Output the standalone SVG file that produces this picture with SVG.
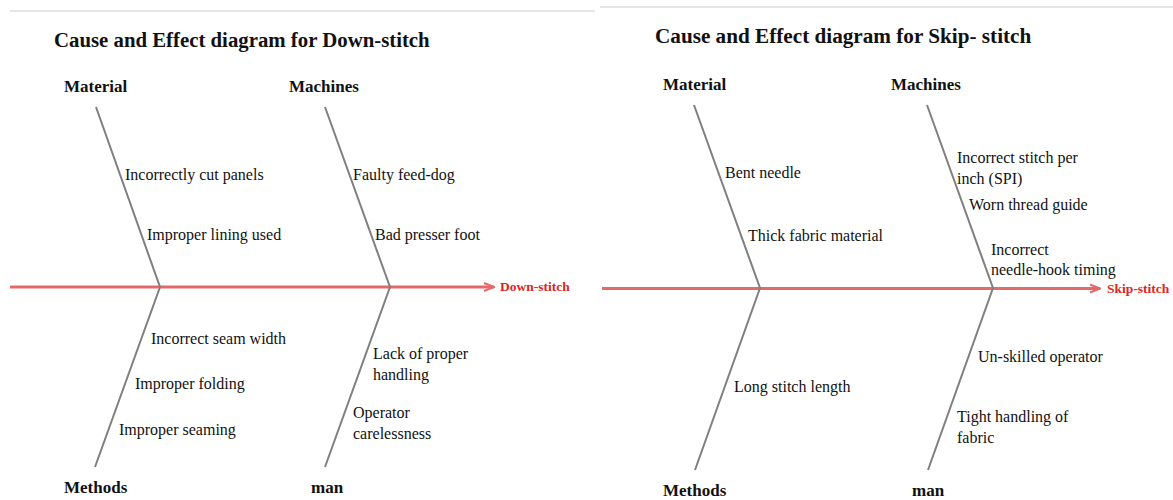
<svg xmlns="http://www.w3.org/2000/svg" width="1173" height="500" viewBox="0 0 1173 500">
  <defs>
    <style>
      text { font-family: 'Liberation Serif', 'Times New Roman', Times, serif; fill: #111; }
      .title { font-weight: bold; font-size: 20.8px; }
      .title-r { font-size: 21.2px; }
      .cat { font-weight: bold; font-size: 17px; }
      .cause { font-size: 16px; }
      .effect { font-weight: bold; font-size: 13.5px; fill: #e02424; }
      .bone { stroke: #7f7f7f; stroke-width: 2; fill: none; }
      .spine { stroke: #e46a6a; stroke-width: 3; fill: none; }
      .rule { stroke: #dcdcdc; stroke-width: 1.5; }
    </style>
    <!-- open chevron head for the effect spine -->
    <marker id="head" viewBox="0 0 12 10" refX="11" refY="5" markerWidth="12" markerHeight="10" markerUnits="userSpaceOnUse" orient="auto">
      <path d="M1,1 L11,5 L1,9" fill="none" stroke="#e46a6a" stroke-width="2"/>
    </marker>
  </defs>
  <rect width="1173" height="500" fill="#ffffff"/>

  <!-- panel separators -->
  <line class="rule" x1="10" y1="11" x2="595" y2="11"/>
  <line class="rule" x1="600" y1="7" x2="1173" y2="7"/>

  <!-- ===== Down-stitch fishbone ===== -->
  <g id="down-title"><text class="title" x="54" y="47">Cause and Effect diagram for Down-stitch</text></g>

  <g id="down-connectors">
    <line class="spine" x1="10" y1="287" x2="494" y2="287" marker-end="url(#head)"/>
    <polyline class="bone" points="96,107 160,287 95,467"/>
    <polyline class="bone" points="325,107 390,287 325,467"/>
  </g>

  <g id="down-effect"><text class="effect" x="500" y="291">Down-stitch</text></g>

  <g id="down-material">
    <text class="cat" x="64" y="92">Material</text>
    <text class="cause" x="125" y="180">Incorrectly cut panels</text>
    <text class="cause" x="147" y="240">Improper lining used</text>
  </g>
  <g id="down-machines">
    <text class="cat" x="289" y="92">Machines</text>
    <text class="cause" x="353" y="180">Faulty feed-dog</text>
    <text class="cause" x="375" y="240">Bad presser foot</text>
  </g>
  <g id="down-methods">
    <text class="cat" x="64" y="493">Methods</text>
    <text class="cause" x="151" y="344">Incorrect seam width</text>
    <text class="cause" x="135" y="389">Improper folding</text>
    <text class="cause" x="119" y="435">Improper seaming</text>
  </g>
  <g id="down-man">
    <text class="cat" x="311" y="493">man</text>
    <text class="cause" x="373" y="359">Lack of proper</text>
    <text class="cause" x="373" y="380">handling</text>
    <text class="cause" x="353" y="418">Operator</text>
    <text class="cause" x="353" y="439">carelessness</text>
  </g>

  <!-- ===== Skip-stitch fishbone ===== -->
  <g id="skip-title"><text class="title title-r" x="655" y="43">Cause and Effect diagram for Skip- stitch</text></g>

  <g id="skip-connectors">
    <line class="spine" x1="602" y1="288.5" x2="1100" y2="288.5" marker-end="url(#head)"/>
    <polyline class="bone" points="694,105 760,288 695,470"/>
    <polyline class="bone" points="927,105 993,288 928,470"/>
  </g>

  <g id="skip-effect"><text class="effect" x="1107" y="293">Skip-stitch</text></g>

  <g id="skip-material">
    <text class="cat" x="663" y="90">Material</text>
    <text class="cause" x="725" y="178">Bent needle</text>
    <text class="cause" x="748" y="241">Thick fabric material</text>
  </g>
  <g id="skip-machines">
    <text class="cat" x="891" y="90">Machines</text>
    <text class="cause" x="957" y="163">Incorrect stitch per</text>
    <text class="cause" x="957" y="184">inch (SPI)</text>
    <text class="cause" x="969" y="210">Worn thread guide</text>
    <text class="cause" x="991" y="255">Incorrect</text>
    <text class="cause" x="991" y="275">needle-hook timing</text>
  </g>
  <g id="skip-methods">
    <text class="cat" x="663" y="496">Methods</text>
    <text class="cause" x="734" y="392">Long stitch length</text>
  </g>
  <g id="skip-man">
    <text class="cat" x="912" y="496">man</text>
    <text class="cause" x="978" y="362">Un-skilled operator</text>
    <text class="cause" x="957" y="422">Tight handling of</text>
    <text class="cause" x="957" y="443">fabric</text>
  </g>
</svg>
